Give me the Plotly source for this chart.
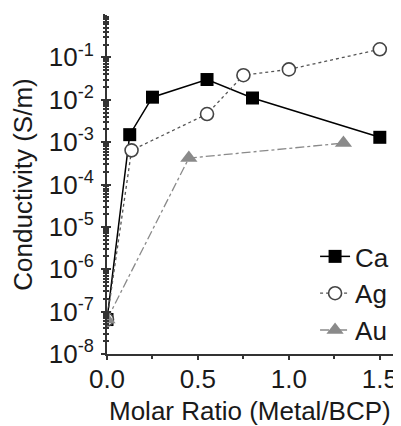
import plotly.graph_objects as go

ca_x = [0.0, 0.125, 0.25, 0.55, 0.80, 1.50]
ca_y = [6.5e-8, 1.5e-3, 1.15e-2, 3.0e-2, 1.1e-2, 1.3e-3]
ag_x = [0.0, 0.135, 0.55, 0.75, 1.0, 1.50]
ag_y = [6.5e-8, 6.4e-4, 4.6e-3, 3.8e-2, 5.2e-2, 1.55e-1]
au_x = [0.0, 0.45, 1.30]
au_y = [6.5e-8, 4.2e-4, 9.5e-4]

y_tickvals = [1e-8, 1e-7, 1e-6, 1e-5, 1e-4, 1e-3, 1e-2, 1e-1]
y_ticktext = ["10<sup>-8</sup>", "10<sup>-7</sup>", "10<sup>-6</sup>", "10<sup>-5</sup>",
              "10<sup>-4</sup>", "10<sup>-3</sup>", "10<sup>-2</sup>", "10<sup>-1</sup>"]
x_tickvals = [0.0, 0.5, 1.0, 1.5]
x_ticktext = ["0.0", "0.5", "1.0", "1.5"]
x_title = "Molar Ratio (Metal/BCP)"
y_title = "Conductivity (S/m)"

FONT = '"Liberation Sans", Arial, sans-serif'
TXT = "#1a1a1a"
AX = "#333333"
FS = 26

fig = go.Figure()
fig.add_trace(go.Scatter(x=ca_x, y=ca_y, name="Ca", mode="lines+markers",
                         line=dict(color="#000000", width=1.5, dash="solid"),
                         marker=dict(symbol="square", size=13, color="#000000")))
fig.add_trace(go.Scatter(x=ag_x, y=ag_y, name="Ag", mode="lines+markers",
                         line=dict(color="#555555", width=1.3, dash="dot"),
                         marker=dict(symbol="circle", size=13, color="white",
                                     line=dict(color="#444444", width=1.6))))
fig.add_trace(go.Scatter(x=au_x, y=au_y, name="Au", mode="lines+markers",
                         line=dict(color="#8a8a8a", width=1.3, dash="dashdot"),
                         marker=dict(symbol="triangle-up", size=15, color="#8a8a8a")))

# page body has an 8px margin, so the figure is sized to the visible area
fig.update_layout(
    width=393, height=418,
    margin=dict(l=99, r=3, t=7, b=72),
    paper_bgcolor="white", plot_bgcolor="white",
    font=dict(family=FONT, size=FS, color=TXT),
    showlegend=True,
    legend=dict(x=0.715, xanchor="left", y=0.357, yanchor="top",
                bgcolor="rgba(0,0,0,0)", font=dict(family=FONT, size=FS, color=TXT),
                tracegroupgap=0),
    xaxis=dict(range=[0, 1.6], tickvals=x_tickvals, ticktext=x_ticktext, automargin=False,
               showgrid=False, zeroline=False, showline=True, linecolor=AX, linewidth=2,
               ticks="outside", ticklen=4, tickwidth=1.5, tickcolor=AX, ticklabelstandoff=-3,
               minor=dict(dtick=0.25, tick0=0, ticks="outside", ticklen=3, tickcolor=AX, showgrid=False),
               tickfont=dict(family=FONT, size=FS, color=TXT)),
    yaxis=dict(type="log", range=[-8, 0], tickvals=y_tickvals, ticktext=y_ticktext, automargin=False,
               showgrid=False, zeroline=False, showline=True, linecolor=AX, linewidth=2,
               ticks="outside", ticklen=4, tickwidth=1.5, tickcolor=AX, ticklabelstandoff=2,
               minor=dict(dtick="D1", ticks="outside", ticklen=2, tickcolor=AX, showgrid=False),
               title=dict(text=y_title, font=dict(family=FONT, size=FS, color=TXT), standoff=12),
               tickfont=dict(family=FONT, size=FS, color=TXT)),
    yaxis2=dict(type="log", range=[-8, 0], overlaying="y", side="left", anchor="x", automargin=False,
                tickvals=y_tickvals, showticklabels=False, showgrid=False, zeroline=False,
                ticks="inside", ticklen=4, tickwidth=1.5, tickcolor=AX,
                minor=dict(dtick="D1", ticks="inside", ticklen=2, tickcolor=AX, showgrid=False)),
    annotations=[dict(text=x_title, xref="paper", yref="paper", x=0.49, y=0,
                      xanchor="center", yanchor="middle", yshift=-57, showarrow=False,
                      font=dict(family=FONT, size=FS, color=TXT))],
)
fig.add_trace(go.Scatter(x=[0], y=[1e-4], yaxis="y2", mode="markers",
                         marker=dict(opacity=0), showlegend=False, hoverinfo="skip"))

fig.write_html("out.html")
